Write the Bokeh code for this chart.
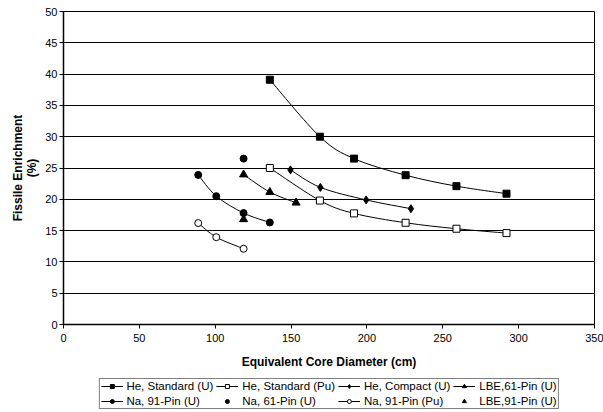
from bokeh.plotting import figure
from bokeh.layouts import column
from bokeh.models import Legend, LegendItem, FixedTicker
from bokeh.embed import file_html
from bokeh.resources import INLINE

# ---- data ----
he_std_u_x = [136, 169, 191.5, 225.5, 259, 292]
he_std_u_y = [39.1, 30.0, 26.5, 23.85, 22.1, 20.9]

he_std_pu_x = [136, 169, 191.5, 225.5, 259, 292]
he_std_pu_y = [25.0, 19.8, 17.75, 16.25, 15.3, 14.6]

he_cmp_u_x = [149.6, 169.3, 199.5, 229]
he_cmp_u_y = [24.7, 21.9, 19.9, 18.5]

lbe61_u_x = [118.7, 136, 153.3]
lbe61_u_y = [23.95, 21.15, 19.45]

na91_u_x = [88.8, 100.7, 118.7, 136]
na91_u_y = [23.9, 20.5, 17.8, 16.3]

na61_u_x = [118.7]
na61_u_y = [26.5]

na91_pu_x = [88.8, 100.7, 118.7]
na91_pu_y = [16.2, 13.95, 12.1]

lbe91_u_x = [118.7]
lbe91_u_y = [16.8]

x_ticks = [0, 50, 100, 150, 200, 250, 300, 350]
y_ticks = [0, 5, 10, 15, 20, 25, 30, 35, 40, 45, 50]

FONT = "Liberation Sans"

p = figure(width=603, height=374, x_range=(0, 350), y_range=(0, 50),
           output_backend="svg", toolbar_location=None,
           min_border_left=63, min_border_right=9, min_border_top=11,
           min_border_bottom=50)
p.background_fill_color = "white"
p.border_fill_color = "white"
p.outline_line_color = "black"
p.outline_line_width = 1

p.xgrid.visible = False
p.ygrid.grid_line_color = "black"
p.ygrid.grid_line_width = 1
p.ygrid.ticker = FixedTicker(ticks=y_ticks)

for ax in (p.xaxis[0], p.yaxis[0]):
    ax.axis_line_color = "black"
    ax.axis_line_width = 1.5
    ax.major_tick_line_color = "black"
    ax.major_tick_out = 4
    ax.major_tick_in = 0
    ax.minor_tick_line_color = None
    ax.major_label_text_font = FONT
    ax.major_label_text_font_size = "11px"
    ax.major_label_text_color = "black"
    ax.axis_label_text_font = FONT
    ax.axis_label_text_font_style = "bold"
    ax.axis_label_text_font_size = "12px"
    ax.axis_label_text_color = "black"
    ax.axis_label_text_line_height = 1.05

p.xaxis.ticker = FixedTicker(ticks=x_ticks)
p.yaxis.ticker = FixedTicker(ticks=y_ticks)
p.xaxis.axis_label = "Equivalent Core Diameter (cm)"
p.yaxis.axis_label = "Fissile Enrichment\n(%)"
p.xaxis.major_label_standoff = 5
p.xaxis.axis_label_standoff = 10
p.yaxis.major_label_standoff = 2
p.yaxis.axis_label_standoff = 3


def smooth(xs, ys):
    """Catmull-Rom style Bezier segments through the data points."""
    n = len(xs)
    x0, y0, x1, y1, cx0, cy0, cx1, cy1 = [], [], [], [], [], [], [], []
    for i in range(n - 1):
        xm = xs[i - 1] if i > 0 else xs[i]
        ym = ys[i - 1] if i > 0 else ys[i]
        xp = xs[i + 2] if i + 2 < n else xs[i + 1]
        yp = ys[i + 2] if i + 2 < n else ys[i + 1]
        x0.append(xs[i]); y0.append(ys[i])
        x1.append(xs[i + 1]); y1.append(ys[i + 1])
        cx0.append(xs[i] + (xs[i + 1] - xm) / 6.0)
        cy0.append(ys[i] + (ys[i + 1] - ym) / 6.0)
        cx1.append(xs[i + 1] - (xp - xs[i]) / 6.0)
        cy1.append(ys[i + 1] - (yp - ys[i]) / 6.0)
    return dict(x0=x0, y0=y0, x1=x1, y1=y1, cx0=cx0, cy0=cy0, cx1=cx1, cy1=cy1)


series = [
    ("He, Standard (U)", he_std_u_x, he_std_u_y, "square", 7, "black", True),
    ("He, Standard (Pu)", he_std_pu_x, he_std_pu_y, "square", 7, "white", True),
    ("He, Compact (U)", he_cmp_u_x, he_cmp_u_y, "diamond", 8, "black", True),
    ("LBE,61-Pin (U)", lbe61_u_x, lbe61_u_y, "triangle", 8, "black", True),
    ("Na, 91-Pin (U)", na91_u_x, na91_u_y, "circle", 7, "black", True),
    ("Na, 61-Pin (U)", na61_u_x, na61_u_y, "circle", 7, "black", False),
    ("Na, 91-Pin (Pu)", na91_pu_x, na91_pu_y, "circle", 7, "white", True),
    ("LBE,91-Pin (U)", lbe91_u_x, lbe91_u_y, "triangle", 8, "black", False),
]

# legend lives in a thin strip under the chart; its glyphs reuse the same
# data but the strip's y range keeps them out of view
lf = figure(width=603, height=38, x_range=(0, 350), y_range=(1000, 1001),
            output_backend="svg", toolbar_location=None,
            min_border_left=63, min_border_right=9, min_border_top=0,
            min_border_bottom=0, x_axis_type=None, y_axis_type=None)
lf.outline_line_color = None
lf.xgrid.visible = False
lf.ygrid.visible = False
lf.background_fill_color = "white"
lf.border_fill_color = "white"

items = []
for label, xs, ys, marker, size, fill, has_line in series:
    lrends = []
    if has_line:
        src = smooth(xs, ys)
        kw = dict(x0="x0", y0="y0", x1="x1", y1="y1",
                  cx0="cx0", cy0="cy0", cx1="cx1", cy1="cy1",
                  line_color="black", line_width=1)
        p.bezier(source=src, **kw)
        lrends.append(lf.bezier(source=dict(src), **kw))
    sk = dict(marker=marker, size=size, fill_color=fill, line_color="black", line_width=1)
    p.scatter(xs, ys, **sk)
    lrends.append(lf.scatter(xs, ys, **sk))
    items.append(LegendItem(label=label, renderers=lrends))

legend = Legend(items=items, orientation="horizontal", ncols=4,
                location="bottom_center", border_line_color="black", border_line_width=1,
                background_fill_color="white",
                label_text_font=FONT, label_text_font_size="11.5px",
                label_text_color="black", glyph_width=22, glyph_height=10,
                label_standoff=4, spacing=3, padding=1, margin=3,
                label_height=10)
lf.add_layout(legend, "center")

layout = column(p, lf, spacing=0)
open("out.html", "w").write(file_html(layout, INLINE))
